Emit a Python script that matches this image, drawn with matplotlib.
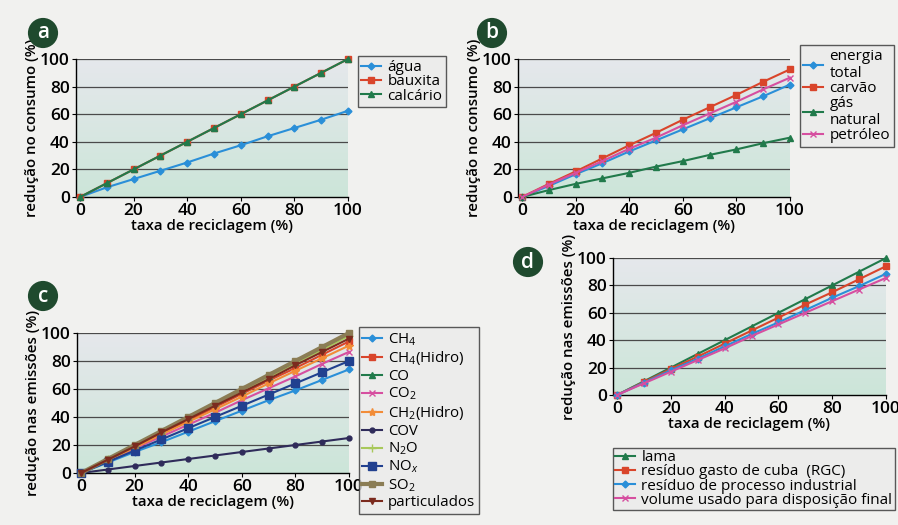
import numpy as np
import matplotlib.pyplot as plt

plt.rcParams['font.family'] = ['Open Sans', 'DejaVu Sans']
plt.rcParams['mathtext.fontset'] = 'custom'
plt.rcParams['mathtext.rm'] = 'Open Sans'
plt.rcParams['mathtext.it'] = 'Open Sans:italic'

x = [0, 10, 20, 30, 40, 50, 60, 70, 80, 90, 100]

# panel a - reducao no consumo
agua = [0, 7, 13, 19, 25, 31.5, 37.5, 44, 50, 56, 62.5]
bauxita = [0, 10, 20, 30, 40, 50, 60, 70, 80, 90, 100]
calcario = [0, 10, 20, 30, 40, 50, 60, 70, 80, 90, 100]

# panel b - reducao no consumo
energia = [0, 8, 16.5, 24.5, 33, 41, 49, 57, 65, 73, 81.5]
carvao = [0, 9.5, 18.5, 28, 37.5, 46.5, 56, 65, 74, 83.5, 92.5]
gas = [0, 5, 9.5, 13.5, 17.5, 22, 26, 30.5, 34.5, 39, 43]
petroleo = [0, 9, 17.5, 26, 35, 43, 52, 60.5, 69, 78, 86.5]

# panel c - reducao nas emissoes
ch4 = [0, 7.5, 15, 22, 29.5, 37, 44.5, 52, 59, 66.5, 74]
ch4_hidro = [0, 9.5, 19, 28, 37.5, 47, 56.5, 66, 75, 84.5, 94]
co = [0, 10, 20, 29.5, 39.5, 49.5, 59.5, 69, 79, 89, 99]
co2 = [0, 8.5, 17.5, 26, 34.5, 43, 52, 60.5, 69, 78, 86.5]
ch2_hidro = [0, 9, 18, 27.5, 36.5, 45.5, 54.5, 64, 73, 82, 91]
cov = [0, 2.5, 5, 7.5, 10, 12.5, 15, 17.5, 20, 22.5, 25]
n2o = [0, 10, 19.5, 29.5, 39, 49, 59, 68.5, 78.5, 88, 98]
nox = [0, 8, 16, 24, 32, 40, 48, 56, 64, 72, 80]
so2 = [0, 10, 20, 30, 40, 50, 60, 70, 80, 90, 100]
particulados = [0, 9.5, 19, 29, 38.5, 48, 57.5, 67, 77, 86.5, 96]

# panel d - reducao nas emissoes
lama = [0, 10, 20, 30, 40, 50, 60, 70, 80, 90, 100]
rgc = [0, 9.5, 19, 28, 37.5, 47, 56.5, 66, 75, 84.5, 94]
processo = [0, 9, 18, 26.5, 35.5, 44.5, 53, 62, 71, 79.5, 88.5]
volume = [0, 8.5, 17, 25.5, 34, 43, 51.5, 60, 68.5, 77, 85.5]

BLUE = '#2a8fd8'
RED = '#d9452b'
GREEN = '#217a4b'
MAGENTA = '#d64fa0'

fig = plt.figure(figsize=(8.98, 5.25), dpi=100, facecolor='#f1f1ef')

grad = np.linspace(0, 1, 100).reshape(-1, 1)
top = np.array([0.90, 0.91, 0.925])
bot = np.array([0.80, 0.90, 0.85])
bg = top[None, None, :] * (1 - grad[:, :, None]) + bot[None, None, :] * grad[:, :, None]


def setup(ax, ylabel):
    ax.set_xlim(-1.5, 100)
    ax.set_ylim(0, 100)
    ax.imshow(bg, extent=(-1.5, 100, 0, 100), aspect='auto', zorder=0)
    ax.set_facecolor('none')
    for y in [20, 40, 60, 80, 100]:
        ax.axhline(y, color='#4a4a4a', lw=0.9, zorder=1)
    for s in ['top', 'right']:
        ax.spines[s].set_visible(False)
    for s in ['left', 'bottom']:
        ax.spines[s].set_color('black')
        ax.spines[s].set_linewidth(1.0)
    ax.set_xticks([0, 20, 40, 60, 80, 100])
    ax.set_yticks([0, 20, 40, 60, 80, 100])
    ax.tick_params(labelsize=12.5, length=3, width=0.8, pad=1.5)
    for t in ax.get_xticklabels() + ax.get_yticklabels():
        t.set_fontweight('semibold')
    ax.set_xlabel('taxa de reciclagem (%)', fontsize=10.8, fontweight='semibold', labelpad=0)
    ax.set_ylabel(ylabel, fontsize=10.8, fontweight='semibold', labelpad=1)


def line(ax, y, color, marker, label, ms=4, lw=1.5):
    ax.plot(x, y, color=color, marker=marker, ms=ms, lw=lw, label=label,
            zorder=3, clip_on=False)


def legend(ax, bbox, fontsize=11, spacing=0.0, pad=0.25):
    leg = ax.legend(loc='upper left', bbox_to_anchor=bbox, frameon=True,
                    fontsize=fontsize, handlelength=1.3, handletextpad=0.4,
                    borderpad=pad, labelspacing=spacing, fancybox=False,
                    borderaxespad=0)
    leg.get_frame().set_edgecolor('#333333')
    leg.get_frame().set_facecolor('#ebebeb')
    leg.get_frame().set_linewidth(1.0)
    return leg


def badge(xp, yp, letter):
    fig.text(xp / 898, 1 - yp / 525, letter, color='white', fontsize=15,
             fontweight='semibold', ha='center', va='center',
             bbox=dict(boxstyle='circle,pad=0.22', fc='#1f4a2e', ec='none'))


# a
ax = fig.add_axes([76 / 898, 1 - 197 / 525, 272 / 898, 138 / 525])
setup(ax, 'redução no consumo (%)')
line(ax, agua, BLUE, 'D', 'água', ms=3.5)
line(ax, bauxita, RED, 's', 'bauxita')
line(ax, calcario, GREEN, '^', 'calcário', ms=5)
legend(ax, (1.035, 1.02), spacing=-0.05)
badge(43, 33, 'a')

# b
ax = fig.add_axes([518 / 898, 1 - 197 / 525, 272 / 898, 138 / 525])
setup(ax, 'redução no consumo (%)')
line(ax, energia, BLUE, 'D', 'energia\ntotal', ms=3.5)
line(ax, carvao, RED, 's', 'carvão')
line(ax, gas, GREEN, '^', 'gás\nnatural', ms=5)
line(ax, petroleo, MAGENTA, 'x', 'petróleo', ms=5)
legend(ax, (1.035, 1.1), spacing=0.0)
badge(492, 33, 'b')

# c
ax = fig.add_axes([77 / 898, 1 - 473 / 525, 272 / 898, 140 / 525])
setup(ax, 'redução nas emissões (%)')
line(ax, ch4, BLUE, 'D', 'CH$_4$', ms=3.5)
line(ax, ch4_hidro, RED, 's', 'CH$_4$(Hidro)')
line(ax, co, GREEN, '^', 'CO', ms=5)
line(ax, co2, MAGENTA, 'x', 'CO$_2$', ms=5)
line(ax, ch2_hidro, '#f28c38', '*', 'CH$_2$(Hidro)', ms=6)
line(ax, cov, '#2f2b5a', 'o', 'COV', ms=3.5)
line(ax, n2o, '#a8c85a', '+', 'N$_2$O', ms=6)
line(ax, nox, '#21408f', 's', 'NO$_x$', ms=6)
line(ax, so2, '#8b7d55', 's', 'SO$_2$', ms=5, lw=3)
line(ax, particulados, '#7b2b1e', 'v', 'particulados', ms=4)
legend(ax, (1.035, 1.04), fontsize=10.8, spacing=0.12)
badge(43, 296, 'c')

# d
ax = fig.add_axes([613 / 898, 1 - 395 / 525, 273 / 898, 137 / 525])
setup(ax, 'redução nas emissões (%)')
line(ax, lama, GREEN, '^', 'lama', ms=5)
line(ax, rgc, RED, 's', 'resíduo gasto de cuba  (RGC)')
line(ax, processo, BLUE, 'D', 'resíduo de processo industrial', ms=3.5)
line(ax, volume, MAGENTA, 'x', 'volume usado para disposição final', ms=5)
legend(ax, (0.0, -0.385), fontsize=11, spacing=-0.05, pad=0.15)
badge(528, 262, 'd')

fig.savefig('out.png', dpi=100, facecolor=fig.get_facecolor())
